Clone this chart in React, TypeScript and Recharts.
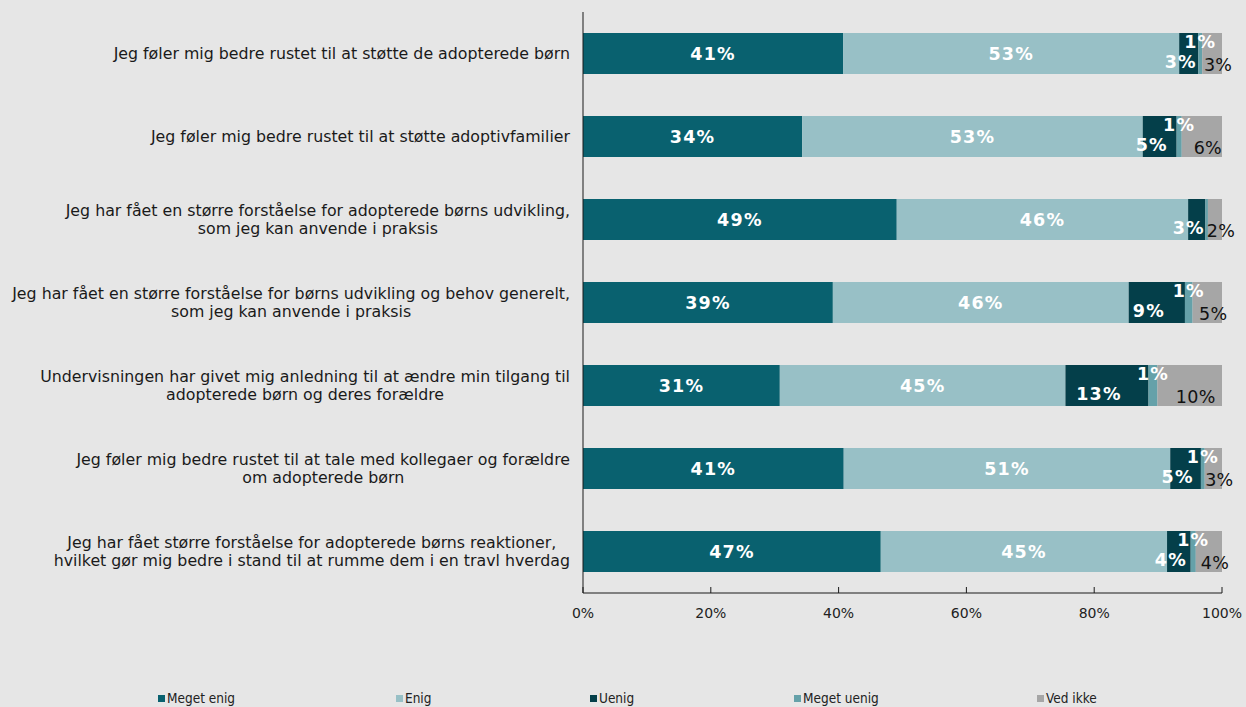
import { Bar, BarChart, LabelList, XAxis, YAxis } from 'recharts'

const categories = [
  'Jeg føler mig bedre rustet til at støtte de adopterede børn',
  'Jeg føler mig bedre rustet til at støtte adoptivfamilier',
  'Jeg har fået en større forståelse for adopterede børns udvikling,\nsom jeg kan anvende i praksis',
  'Jeg har fået en større forståelse for børns udvikling og behov generelt,\nsom jeg kan anvende i praksis',
  'Undervisningen har givet mig anledning til at ændre min tilgang til\nadopterede børn og deres forældre',
  'Jeg føler mig bedre rustet til at tale med kollegaer og forældre\nom adopterede børn',
  'Jeg har fået større forståelse for adopterede børns reaktioner,\nhvilket gør mig bedre i stand til at rumme dem i en travl hverdag',
]

const megetEnig = [40.7, 34.3, 49.1, 39.1, 30.8, 40.8, 46.6]
const enig = [52.6, 53.3, 45.6, 46.3, 44.7, 51.1, 44.8]
const uenig = [3.0, 5.3, 2.7, 8.8, 13.0, 4.8, 3.7]
const megetUenig = [0.6, 0.8, 0.4, 1.2, 1.4, 0.6, 0.8]
const vedIkke = [3.1, 6.3, 2.2, 4.6, 10.1, 2.7, 4.1]

const xTicks = [0, 20, 40, 60, 80, 100]

const series = [
  { key: 'megetEnig', name: 'Meget enig', color: '#09616f' },
  { key: 'enig', name: 'Enig', color: '#98c0c6' },
  { key: 'uenig', name: 'Uenig', color: '#043f4a' },
  { key: 'megetUenig', name: 'Meget uenig', color: '#65a1a9' },
  { key: 'vedIkke', name: 'Ved ikke', color: '#a6a6a6' },
]

const legendX = [158, 396, 590, 794, 1037]

const data = categories.map((label, i) => ({
  label,
  megetEnig: megetEnig[i],
  enig: enig[i],
  uenig: uenig[i],
  megetUenig: megetUenig[i],
  vedIkke: vedIkke[i],
}))

const labelFont = "'DejaVu Sans', Verdana, sans-serif"
const catSize = 15.8

let ctx: CanvasRenderingContext2D | null = null
function textWidth(s: string) {
  if (!ctx) ctx = document.createElement('canvas').getContext('2d')
  if (!ctx) return s.length * 7.8
  ctx.font = `${catSize}px ${labelFont}`
  return ctx.measureText(s).width
}

function CategoryTick({ x, y, payload }: any) {
  const lines = String(payload.value).split('\n')
  const w = Math.max(...lines.map(textWidth))
  const cx = x - 13 - w / 2
  const lh = 18
  const y0 = y - ((lines.length - 1) * lh) / 2
  return (
    <text fontFamily={labelFont} fontSize={catSize} fill="#1a1a1a" textAnchor="middle">
      {lines.map((l, i) => (
        <tspan key={i} x={cx} y={y0 + i * lh} dy="0.35em">
          {l}
        </tspan>
      ))}
    </text>
  )
}

function PercentTick({ x, y, payload }: any) {
  return (
    <g>
      <line x1={x} x2={x} y1={y} y2={y - 6} stroke="#1a1a1a" />
      <text x={x} y={y + 25} textAnchor="middle" fontFamily={labelFont} fontSize={14} fill="#222">
        {payload.value}%
      </text>
    </g>
  )
}

function makeLabel(dx: number, dy: number, fill: string, bold: boolean) {
  return (props: any) => {
    const { x, y, width, height, value } = props
    const v = Math.round(Number(value))
    if (v < 1) return null
    return (
      <text
        x={Number(x) + Number(width) / 2 + dx}
        y={Number(y) + Number(height) / 2 + dy}
        dy="0.36em"
        textAnchor="middle"
        fontFamily={labelFont}
        fontSize={17.5}
        fontWeight={bold ? 'bold' : 'normal'}
        letterSpacing={bold ? 1.2 : 0.3}
        fill={fill}
      >
        {v}%
      </text>
    )
  }
}

const labelStyles: Record<string, any> = {
  megetEnig: makeLabel(0, 0, '#ffffff', true),
  enig: makeLabel(0, 0, '#ffffff', true),
  uenig: makeLabel(-8, 8, '#ffffff', true),
  megetUenig: makeLabel(0, -12, '#ffffff', true),
  vedIkke: makeLabel(6, 11, '#111111', false),
}

export default function App() {
  return (
    <div style={{ position: 'absolute', left: 0, top: 0, width: 1246, height: 707, background: '#e6e6e6' }}>
      <BarChart
        width={1246}
        height={707}
        data={data}
        layout="vertical"
        margin={{ top: 12, right: 24, left: 0, bottom: 74 }}
        barSize={41}
      >
        <XAxis
          type="number"
          domain={[0, 100]}
          ticks={xTicks}
          interval={0}
          tickSize={0}
          tickMargin={0}
          axisLine={{ stroke: '#1a1a1a' }}
          tickLine={false}
          tick={<PercentTick />}
          height={40}
          allowDataOverflow
        />
        <YAxis
          type="category"
          dataKey="label"
          width={583}
          axisLine={{ stroke: '#1a1a1a' }}
          tickLine={false}
          tickSize={0}
          tickMargin={0}
          interval={0}
          tick={<CategoryTick />}
        />
        {series.map((s) => (
          <Bar key={s.key} dataKey={s.key} name={s.name} stackId="a" fill={s.color} isAnimationActive={false}>
            <LabelList dataKey={s.key} content={labelStyles[s.key]} />
          </Bar>
        ))}
      </BarChart>
      {series.map((s, i) => (
        <div
          key={s.key}
          style={{
            position: 'absolute',
            left: legendX[i],
            top: 690,
            display: 'flex',
            alignItems: 'center',
            fontFamily: "'DejaVu Sans Condensed', 'DejaVu Sans', sans-serif",
            fontSize: 13.5,
            color: '#222',
            whiteSpace: 'nowrap',
          }}
        >
          <span style={{ display: 'inline-block', width: 7, height: 7, background: s.color, marginRight: 2 }} />
          {s.name}
        </div>
      ))}
    </div>
  )
}
